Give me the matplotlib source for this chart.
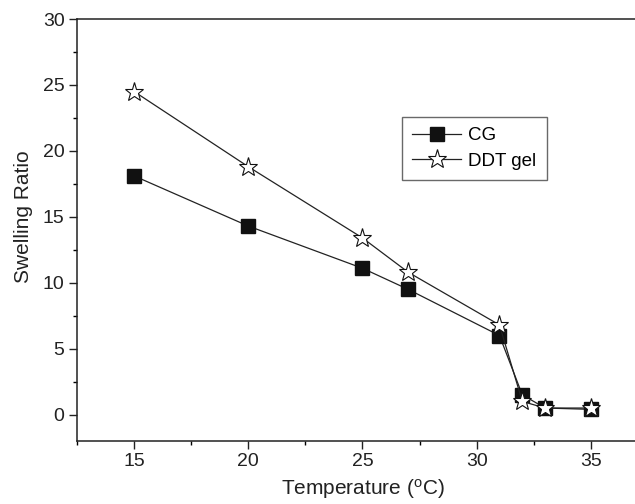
import numpy as np
import matplotlib
matplotlib.use('Agg')
import matplotlib.pyplot as plt
from matplotlib.ticker import MultipleLocator

plt.rcParams['font.family'] = ['Liberation Sans', 'DejaVu Sans']

temp = [15, 20, 25, 27, 31, 32, 33, 35]
cg = [18.1, 14.3, 11.1, 9.5, 6.0, 1.5, 0.5, 0.4]
ddt_gel = [24.5, 18.8, 13.4, 10.8, 6.8, 1.0, 0.5, 0.5]

fig = plt.figure(figsize=(6.35, 5.04), dpi=100)
# axes runs a little past the right edge of the picture (cropped like the source)
ax = fig.add_axes([0.1213, 0.125, 0.899, 0.8373])

ax.plot(temp, cg, color='#222222', lw=0.9, marker='s', ms=9.5,
        mfc='#111111', mec='#111111', label='CG')
ax.plot(temp, ddt_gel, color='#222222', lw=0.9, marker='*', ms=14,
        mfc='white', mec='#111111', mew=0.8, label='DDT gel')

ax.set_xlim(12.5, 37.5)
ax.set_ylim(-2, 30)
ax.xaxis.set_major_locator(MultipleLocator(5))
ax.xaxis.set_minor_locator(MultipleLocator(2.5))
ax.yaxis.set_major_locator(MultipleLocator(5))
ax.yaxis.set_minor_locator(MultipleLocator(2.5))
ax.tick_params(which='major', direction='out', length=6, width=1, labelsize=14,
               colors='#222222', pad=3)
ax.tick_params(which='minor', direction='out', length=3, width=1)
ax.tick_params(top=False, right=False)

for s in ['left', 'bottom', 'top']:
    ax.spines[s].set_linewidth(1.1)
    ax.spines[s].set_color('#222222')
ax.spines['right'].set_visible(False)

ax.set_xlabel('Temperature ($\\mathregular{^{o}}$C)', fontsize=15, color='#222222', labelpad=5)
ax.set_ylabel('Swelling Ratio', fontsize=15, color='#222222')
ax.yaxis.set_label_coords(-0.077, 0.531)

leg = ax.legend(loc='upper left', bbox_to_anchor=(0.569, 0.768), borderaxespad=0,
                fancybox=False, edgecolor='#444444', fontsize=13.5, handlelength=2.6,
                borderpad=0.55, labelspacing=0.45, handletextpad=0.4)
leg.get_frame().set_linewidth(1.0)

fig.savefig('out.png', dpi=100)
